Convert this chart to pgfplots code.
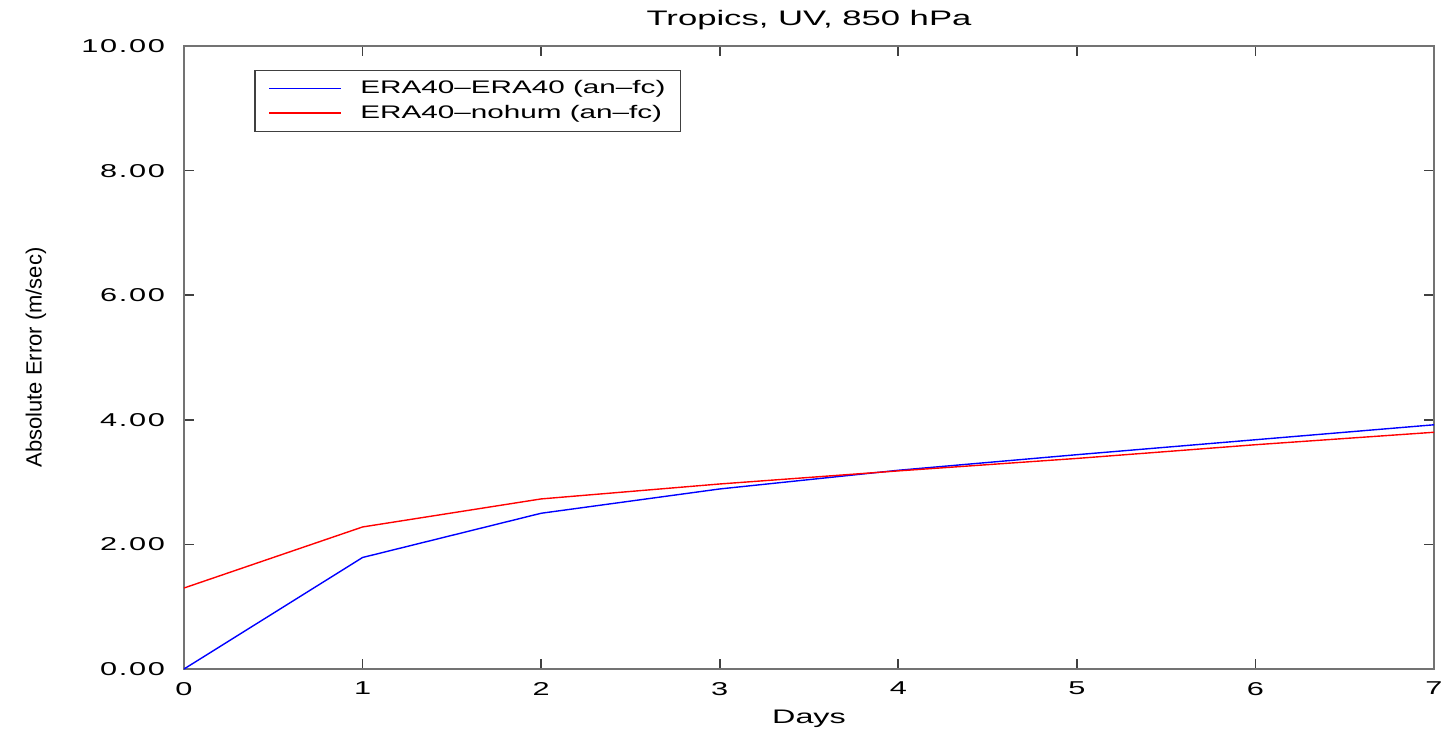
\documentclass[border=0pt]{standalone}
\usepackage{fontspec}
\setmainfont[FakeStretch=1.65]{Liberation Sans}
\newfontfamily\ylfont{Liberation Sans}
\newfontfamily\legfont[FakeStretch=1.63, Ligatures=TeX]{Liberation Sans}
\usepackage{pgfplots}
\pgfplotsset{compat=1.18}
\definecolor{lineblue}{RGB}{0,0,255}
\definecolor{linered}{RGB}{255,0,0}
\begin{document}
\begin{tikzpicture}
\begin{axis}[
  name=ax,
  scale only axis,
  width=625pt, height=311.5pt,
  xmin=0, xmax=7, ymin=0, ymax=10,
  xtick={0,...,7},
  ytick={0,2,4,6,8,10},
  tick align=inside,
  major tick length=5pt,
  axis line style={line width=0.9pt, black!55},
  tick style={line width=0.8pt, black!75},
  cycle list={{lineblue},{linered}},
  /pgf/number format/assume math mode=true,
  yticklabel style={/pgf/number format/fixed, /pgf/number format/zerofill, /pgf/number format/precision=2, font=\addfontfeature{LetterSpace=9}\fontsize{9.3}{11}\selectfont, xshift=-6pt},
  xticklabel style={font=\fontsize{9.3}{11}\selectfont, yshift=-3pt},
  title={Tropics, UV, 850 hPa},
  title style={font=\fontsize{10.5}{12}\selectfont, at={(axis description cs:0.5,1.0433)}, anchor=center, yshift=-6.5pt},
  xlabel={Days},
  ylabel={Absolute Error (m/sec)},
  xlabel style={font=\fontsize{9.8}{12}\selectfont, at={(axis description cs:0.5,-0.080)}, anchor=center},
  ylabel style={font=\ylfont\fontsize{11}{13}\selectfont, at={(axis description cs:-0.1184,0.5)}, anchor=center, rotate=0},
  legend style={name=leg, at={(rel axis cs:0.0568,0.9603)}, anchor=north west, draw=none, font=\legfont\fontsize{9.1}{11}\selectfont, inner xsep=5.5pt, inner ysep=2.5pt, row sep=0pt, nodes={inner sep=2pt, text height=6.6pt, text depth=1.9pt}},
  legend cell align=left,
]
\addlegendimage{legend image code/.code={\path[draw=none] (-1.5pt,0pt) -- (43.5pt,0pt); \draw[color=lineblue, line width=0.8pt] (0pt,0pt) -- (36pt,0pt);}}
\addlegendentry{ERA40–ERA40 (an–fc)}
\addlegendimage{legend image code/.code={\path[draw=none] (-1.5pt,0pt) -- (43.5pt,0pt); \draw[color=linered, line width=0.8pt] (0pt,0.3pt) -- (36pt,0.3pt);}}
\addlegendentry{ERA40–nohum (an–fc)}
\addplot[draw=lineblue, line width=0.7pt, forget plot] coordinates {(0,0) (1,1.79) (2,2.50) (3,2.89) (4,3.19) (5,3.44) (6,3.68) (7,3.92)};
\addplot[draw=linered, line width=0.7pt, forget plot] coordinates {(0,1.30) (1,2.28) (2,2.73) (3,2.97) (4,3.18) (5,3.38) (6,3.60) (7,3.80)};
\end{axis}
\draw[black!75, line width=0.6pt] (leg.south west) rectangle (leg.north east);
\pgfresetboundingbox
\path[use as bounding box] ([shift={(-92pt,-32.5pt)}]ax.south west) rectangle ([shift={(4pt,23pt)}]ax.north east);
\end{tikzpicture}
\end{document}
